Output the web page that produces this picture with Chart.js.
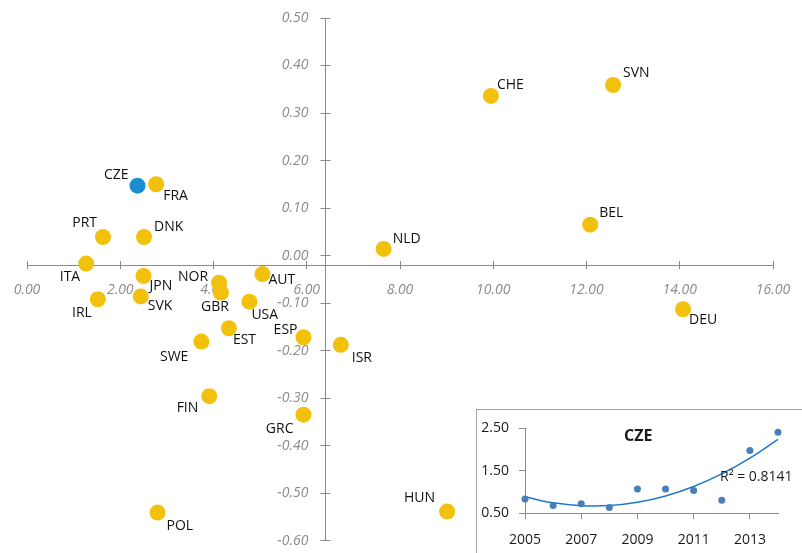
<!DOCTYPE html>
<html>
<head>
<meta charset="utf-8">
<script src="https://cdn.jsdelivr.net/npm/chart.js@4.4.0/dist/chart.umd.min.js"></script>
<style>
  body { margin: 0; width: 802px; height: 553px; overflow: hidden; background: #fff; position: relative; font-family: "Open Sans", sans-serif; }
  #main { position: absolute; left: 0; top: 0; }
  #inset { position: absolute; left: 476px; top: 409px; width: 340px; height: 160px; border: 1px solid #a6a6a6; background: #fff; }
  #insetChart { position: absolute; left: 0; top: 0; }
  .note { position: absolute; color: #1a1a1a; white-space: nowrap; line-height: 1; }
</style>
</head>
<body>
<canvas id="main" width="802" height="553"></canvas>
<div id="inset">
  <canvas id="insetChart" width="326" height="144"></canvas>
</div>
<div class="note" id="insetTitle" style="left:624px; top:427px; font-size:16px; font-weight:bold;">CZE</div>
<div class="note" id="r2" style="left:720px; top:469px; font-size:14px;">R² = 0.8141</div>
<script>
// main scatter
const countries = ["CZE","FRA","PRT","DNK","ITA","JPN","NOR","GBR","AUT","IRL","SVK","USA","EST","ESP","SWE","ISR","FIN","GRC","POL","HUN","CHE","SVN","BEL","NLD","DEU"];
const xVals = [2.37, 2.77, 1.63, 2.51, 1.27, 2.50, 4.12, 4.16, 5.05, 1.52, 2.44, 4.77, 4.33, 5.93, 3.74, 6.73, 3.91, 5.93, 2.80, 9.01, 9.95, 12.57, 12.08, 7.65, 14.07];
const yVals = [0.147, 0.150, 0.039, 0.039, -0.017, -0.043, -0.057, -0.078, -0.039, -0.092, -0.086, -0.097, -0.153, -0.172, -0.181, -0.188, -0.296, -0.335, -0.541, -0.539, 0.336, 0.359, 0.065, 0.014, -0.113];
const xTicks = [0, 2, 4, 6, 8, 10, 12, 14, 16];
const yTicks = [0.5, 0.4, 0.3, 0.2, 0.1, 0, -0.1, -0.2, -0.3, -0.4, -0.5, -0.6];

// inset: CZE over time
const years = [2005, 2006, 2007, 2008, 2009, 2010, 2011, 2012, 2013, 2014];
const czeVals = [0.83, 0.68, 0.72, 0.63, 1.07, 1.07, 1.03, 0.80, 1.98, 2.41];
const yearTicks = [2005, 2007, 2009, 2011, 2013];

// label placement [dx, dy, align] relative to each dot
const labelPos = [
  [-9,-11,'right'], [7,12,'left'], [-6,-14,'right'], [10,-10,'left'], [-6,13,'right'],
  [6,10,'left'], [-11,-6,'right'], [8,14,'right'], [6,6,'left'], [-6,14,'right'],
  [7,10,'left'], [2,13,'left'], [4,12,'left'], [-6,-7,'right'], [-13,15,'right'],
  [11,13,'left'], [-11,12,'right'], [-10,14,'right'], [9,13,'left'], [-12,-14,'right'],
  [6,-11,'left'], [10,-12,'left'], [9,-12,'left'], [9,-10,'left'], [6,11,'left']
];

const axisGrey = '#8a8a8a';

const pointLabels = {
  id: 'pointLabels',
  afterDraw(chart) {
    const ctx = chart.ctx;
    const meta = chart.getDatasetMeta(0);
    ctx.save();
    ctx.font = '14px "Open Sans"';
    ctx.fillStyle = '#111';
    ctx.textBaseline = 'middle';
    meta.data.forEach(function(pt, i) {
      const p = labelPos[i];
      ctx.textAlign = p[2];
      ctx.fillText(countries[i], pt.x + p[0], pt.y + p[1]);
    });
    ctx.restore();
  }
};

// crossing axes: tick marks straddle the axis line, y labels sit a bit left of it
const crossTicks = {
  id: 'crossTicks',
  beforeDraw(chart) {
    const xs = chart.scales.x, ys = chart.scales.y;
    const axisY = ys.getPixelForValue(-0.02);
    const axisX = xs.getPixelForValue(6.4);
    const gx = xs._gridLineItems || (xs._gridLineItems = xs._computeGridLineItems(chart.chartArea));
    gx.forEach(function(it) { it.ty1 = axisY - 4; it.ty2 = axisY + 4; });
    const gy = ys._gridLineItems || (ys._gridLineItems = ys._computeGridLineItems(chart.chartArea));
    gy.forEach(function(it) { it.tx1 = axisX - 5; it.tx2 = axisX + 5; });
    const ly = ys.getLabelItems(chart.chartArea);
    if (!ly._shifted) {
      ly.forEach(function(it) { it.options.translation[0] = axisX - 17; });
      ly._shifted = true;
    }
  }
};

new Chart(document.getElementById('main'), {
  type: 'scatter',
  data: {
    datasets: [{
      data: xVals.map(function(x, i) { return {x: x, y: yVals[i]}; }),
      backgroundColor: countries.map(function(c) { return c === 'CZE' ? '#1a8fd0' : '#f2c10e'; }),
      borderWidth: 0,
      pointRadius: 8,
      pointHoverRadius: 8,
      clip: false
    }]
  },
  options: {
    responsive: false,
    animation: false,
    devicePixelRatio: 1,
    layout: { padding: { left: 27, right: 29, top: 18, bottom: 12 } },
    plugins: { legend: { display: false }, tooltip: { enabled: false } },
    scales: {
      x: {
        type: 'linear', min: 0, max: 16,
        position: { y: -0.02 },
        afterFit: function(s) { s.height = 0; },
        afterBuildTicks: function(s) { s.ticks = xTicks.map(function(v) { return {value: v}; }); },
        grid: { drawOnChartArea: false, color: axisGrey, tickLength: 6 },
        border: { color: axisGrey, width: 1 },
        ticks: {
          color: '#8c8c8c', padding: 11,
          font: { family: 'Open Sans', size: 14, style: 'italic' },
          callback: function(v) { return v.toFixed(2); }
        }
      },
      y: {
        type: 'linear', min: -0.6, max: 0.5,
        position: { x: 6.4 },
        afterFit: function(s) { s.width = 0; },
        afterBuildTicks: function(s) { s.ticks = yTicks.map(function(v) { return {value: v}; }); },
        grid: { drawOnChartArea: false, color: axisGrey, tickLength: 6 },
        border: { color: axisGrey, width: 1 },
        ticks: {
          color: '#8c8c8c', padding: 4,
          font: { family: 'Open Sans', size: 14, style: 'italic' },
          callback: function(v) { return v.toFixed(2); }
        }
      }
    }
  },
  plugins: [crossTicks, pointLabels]
});

// quadratic least-squares trend, as the spreadsheet trendline does
function quadFit(xs, ys) {
  const n = xs.length;
  const x0 = xs[0];
  let s = [0,0,0,0,0], t = [0,0,0];
  for (let i = 0; i < n; i++) {
    const x = xs[i] - x0;
    for (let k = 0; k < 5; k++) s[k] += Math.pow(x, k);
    for (let k = 0; k < 3; k++) t[k] += ys[i] * Math.pow(x, k);
  }
  const m = [[s[0],s[1],s[2],t[0]],[s[1],s[2],s[3],t[1]],[s[2],s[3],s[4],t[2]]];
  for (let c = 0; c < 3; c++) {
    for (let r = c + 1; r < 3; r++) {
      const f = m[r][c] / m[c][c];
      for (let k = c; k < 4; k++) m[r][k] -= f * m[c][k];
    }
  }
  const b = [0,0,0];
  for (let r = 2; r >= 0; r--) {
    let v = m[r][3];
    for (let k = r + 1; k < 3; k++) v -= m[r][k] * b[k];
    b[r] = v / m[r][r];
  }
  return xs.map(function(x) { const d = x - x0; return b[0] + b[1]*d + b[2]*d*d; });
}
const trendVals = quadFit(years, czeVals);

new Chart(document.getElementById('insetChart'), {
  type: 'scatter',
  data: {
    datasets: [
      {
        data: years.map(function(y, i) { return {x: y, y: czeVals[i]}; }),
        backgroundColor: '#4a7ebb',
        borderWidth: 0,
        pointRadius: 3.5,
        clip: false
      },
      {
        type: 'line',
        data: years.map(function(y, i) { return {x: y, y: trendVals[i]}; }),
        borderColor: '#1f78c8',
        borderWidth: 1.5,
        pointRadius: 0,
        tension: 0.4,
        fill: false,
        clip: false
      }
    ]
  },
  options: {
    responsive: false,
    animation: false,
    devicePixelRatio: 1,
    layout: { padding: { left: 0, right: 25, top: 13, bottom: 0 } },
    plugins: { legend: { display: false }, tooltip: { enabled: false } },
    scales: {
      x: {
        type: 'linear', min: 2005, max: 2014,
        afterFit: function(s) { s.height = 41; },
        afterBuildTicks: function(s) { s.ticks = yearTicks.map(function(v) { return {value: v}; }); },
        grid: { drawOnChartArea: false, color: axisGrey, tickLength: 6 },
        border: { color: axisGrey, width: 1 },
        ticks: {
          color: '#1a1a1a', padding: 13, maxRotation: 0,
          font: { family: 'Open Sans', size: 14 },
          callback: function(v) { return String(v); }
        }
      },
      y: {
        type: 'linear', min: 0.5, max: 2.5,
        afterFit: function(s) { s.width = 48; },
        afterBuildTicks: function(s) { s.ticks = [0.5, 1.5, 2.5].map(function(v) { return {value: v}; }); },
        grid: { drawOnChartArea: false, color: axisGrey, tickLength: 6 },
        border: { color: axisGrey, width: 1 },
        ticks: {
          color: '#1a1a1a', padding: 10,
          font: { family: 'Open Sans', size: 14 },
          callback: function(v) { return v.toFixed(2); }
        }
      }
    }
  }
});
</script>
</body>
</html>
